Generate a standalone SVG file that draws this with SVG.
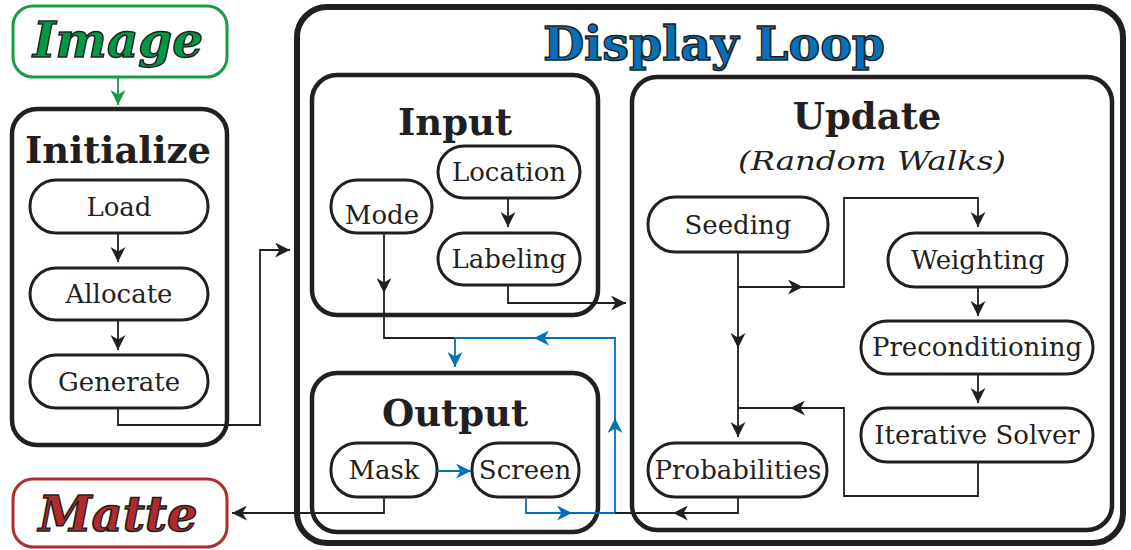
<svg xmlns="http://www.w3.org/2000/svg" width="1131" height="550" viewBox="0 0 1131 550">
<defs>
<marker id="ak" markerUnits="userSpaceOnUse" markerWidth="15" markerHeight="15" refX="15" refY="7.5" orient="auto" viewBox="0 0 15 15"><path d="M0,0 L15,7.5 L0,15 L4.5,7.5 z" fill="#231f20"/></marker>
<marker id="ab" markerUnits="userSpaceOnUse" markerWidth="15" markerHeight="15" refX="15" refY="7.5" orient="auto" viewBox="0 0 15 15"><path d="M0,0 L15,7.5 L0,15 L4.5,7.5 z" fill="#0072bc"/></marker>
<marker id="ag" markerUnits="userSpaceOnUse" markerWidth="15" markerHeight="15" refX="15" refY="7.5" orient="auto" viewBox="0 0 15 15"><path d="M0,0 L15,7.5 L0,15 L4.5,7.5 z" fill="#1a9a48"/></marker>
</defs>
<style>
.big{fill:#fff;stroke:#231f20;stroke-width:4.5}
.pill{fill:#fff;stroke:#231f20;stroke-width:3}
.lbl{font-family:"DejaVu Serif",serif;font-size:26px;fill:#231f20;text-anchor:middle}
.hd{font-family:"DejaVu Serif",serif;font-size:37px;font-weight:bold;fill:#231f20;text-anchor:middle}
.ttl{font-family:"DejaVu Serif",serif;font-weight:bold;text-anchor:middle;stroke:#231f20;stroke-width:1.5}
.c{fill:none;stroke:#231f20;stroke-width:1.8}
.cb{fill:none;stroke:#0072bc;stroke-width:1.8}
</style>
<g id="display-loop">
<rect x="297" y="7" width="826" height="536" rx="30" fill="#fff" stroke="#231f20" stroke-width="6"/>
<text class="ttl" x="714" y="60" font-size="47.5" fill="#0072bc">Display Loop</text>
</g>
<g id="image">
<rect x="13" y="6" width="214" height="71" rx="20" fill="#fff" stroke="#1a9a48" stroke-width="3"/>
<text class="ttl" x="118" y="57" font-size="48.5" font-style="italic" fill="#009a46">Image</text>
</g>
<g id="matte">
<rect x="13" y="479" width="214" height="68" rx="20" fill="#fff" stroke="#b02a2e" stroke-width="3"/>
<text class="ttl" x="118" y="531" font-size="48" font-style="italic" fill="#b02a2e">Matte</text>
</g>
<g id="initialize">
<rect class="big" x="12" y="109" width="215" height="336" rx="25"/>
<text class="hd" x="118" y="163">Initialize</text>
</g>
<g id="load"><rect class="pill" x="30" y="180" width="178" height="53" rx="26"/><text class="lbl" x="119" y="216">Load</text></g>
<g id="allocate"><rect class="pill" x="30" y="268" width="178" height="52" rx="26"/><text class="lbl" x="119" y="303">Allocate</text></g>
<g id="generate"><rect class="pill" x="30" y="355" width="178" height="53" rx="26"/><text class="lbl" x="119" y="391">Generate</text></g>
<g id="input">
<rect class="big" x="312" y="75" width="286" height="240" rx="25"/>
<text class="hd" x="455" y="135">Input</text>
</g>
<g id="location"><rect class="pill" x="438" y="146" width="142" height="52" rx="26"/><text class="lbl" x="509" y="181">Location</text></g>
<g id="mode"><rect class="pill" x="331" y="180" width="101" height="53" rx="26"/><text class="lbl" x="382" y="224">Mode</text></g>
<g id="labeling"><rect class="pill" x="438" y="233" width="142" height="52" rx="26"/><text class="lbl" x="509" y="268">Labeling</text></g>
<g id="output">
<rect class="big" x="312" y="373" width="286" height="159" rx="25"/>
<text class="hd" x="455" y="426">Output</text>
</g>
<g id="mask"><rect class="pill" x="331" y="443" width="106" height="54" rx="26"/><text class="lbl" x="384" y="479">Mask</text></g>
<g id="screen"><rect class="pill" x="472" y="443" width="107" height="54" rx="26"/><text class="lbl" x="525" y="479">Screen</text></g>
<g id="update">
<rect class="big" x="632" y="77" width="480" height="453" rx="25"/>
<text class="hd" x="867" y="129" font-size="39">Update</text>
<text class="lbl" x="872" y="170" font-style="italic" font-size="32" textLength="268" lengthAdjust="spacingAndGlyphs">(Random Walks)</text>
</g>
<g id="seeding"><rect class="pill" x="648" y="197" width="180" height="55" rx="27"/><text class="lbl" x="738" y="234">Seeding</text></g>
<g id="weighting"><rect class="pill" x="888" y="233" width="179" height="54" rx="27"/><text class="lbl" x="978" y="269">Weighting</text></g>
<g id="preconditioning"><rect class="pill" x="861" y="321" width="232" height="53" rx="26"/><text class="lbl" x="977" y="356">Preconditioning</text></g>
<g id="iterative-solver"><rect class="pill" x="861" y="408" width="232" height="54" rx="26"/><text class="lbl" x="977" y="444">Iterative Solver</text></g>
<g id="probabilities"><rect class="pill" x="648" y="443" width="179" height="54" rx="27"/><text class="lbl" x="738" y="479">Probabilities</text></g>
<g id="connectors">
<path d="M118,77 V105" fill="none" stroke="#1a9a48" stroke-width="1.8" marker-end="url(#ag)"/>
<path class="c" d="M118,233 V262" marker-end="url(#ak)"/>
<path class="c" d="M118,320 V350" marker-end="url(#ak)"/>
<path class="c" d="M118,408 V425 H260 V250 H290" marker-end="url(#ak)"/>
<path class="c" d="M508,198 V227" marker-end="url(#ak)"/>
<path class="c" d="M508,285 V303 H626" marker-end="url(#ak)"/>
<path class="c" d="M384,233 V293" marker-end="url(#ak)"/>
<path class="c" d="M384,290 V338 H455"/>
<path class="cb" d="M615,513 V418" marker-end="url(#ab)"/>
<path class="cb" d="M615,420 V338 H534" marker-end="url(#ab)"/>
<path class="cb" d="M536,338 H455 V367" marker-end="url(#ab)"/>
<path class="cb" d="M526,497 V513 H572" marker-end="url(#ab)"/>
<path class="cb" d="M570,513 H615"/>
<path class="cb" d="M437,471 H471" marker-end="url(#ab)"/>
<path class="c" d="M384,497 V513 H232" marker-end="url(#ak)"/>
<path class="c" d="M738,497 V513 H673" marker-end="url(#ak)"/>
<path class="c" d="M675,513 H615"/>
<path class="c" d="M738,252 V348" marker-end="url(#ak)"/>
<path class="c" d="M738,345 V437" marker-end="url(#ak)"/>
<path class="c" d="M738,287 H803" marker-end="url(#ak)"/>
<path class="c" d="M800,287 H844 V198 H978 V227" marker-end="url(#ak)"/>
<path class="c" d="M978,287 V316" marker-end="url(#ak)"/>
<path class="c" d="M978,374 V403" marker-end="url(#ak)"/>
<path class="c" d="M978,462 V496 H844 V408 H790" marker-end="url(#ak)"/>
<path class="c" d="M793,408 H738"/>
</g>
</svg>
